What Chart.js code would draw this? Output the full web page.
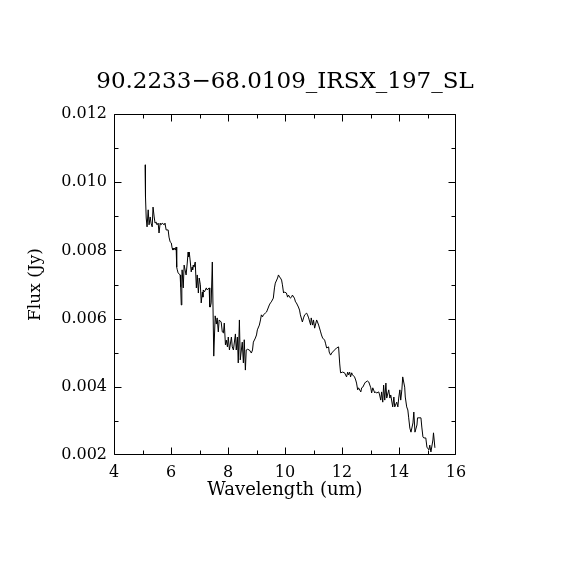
<!DOCTYPE html>
<html>
<head>
<meta charset="utf-8">
<script src="https://cdn.jsdelivr.net/npm/chart.js@4.4.1/dist/chart.umd.min.js"></script>
<style>
  html, body { margin: 0; padding: 0; background: #ffffff; }
  #wrap { width: 570px; height: 570px; }
</style>
</head>
<body>
<div id="wrap"><canvas id="c" width="570" height="570"></canvas></div>
<script>
const chartTitle = "90.2233\u221268.0109_IRSX_197_SL";
const xAxisTitle = "Wavelength (um)";
const yAxisTitle = "Flux (Jy)";

const xMajorTicks = [4, 6, 8, 10, 12, 14, 16];
const xMinorTicks = [5, 7, 9, 11, 13, 15];
const yMajorTicks = [0.002, 0.004, 0.006, 0.008, 0.010, 0.012];
const yMinorTicks = [0.003, 0.005, 0.007, 0.009, 0.011];

const wavelength = [
  5.09, 5.10, 5.11, 5.13, 5.16, 5.20, 5.23, 5.27, 5.30, 5.34,
  5.37, 5.41, 5.44, 5.48, 5.51, 5.55, 5.58, 5.62, 5.65, 5.69,
  5.76, 5.79, 5.83, 5.90, 5.93, 5.97, 6.01, 6.04, 6.07, 6.11,
  6.15, 6.18, 6.20, 6.22, 6.25, 6.32, 6.34, 6.36, 6.38, 6.39,
  6.43, 6.46, 6.53, 6.57, 6.60, 6.62, 6.64, 6.67, 6.71, 6.74,
  6.76, 6.78, 6.81, 6.85, 6.89, 6.92, 6.96, 6.99, 7.03, 7.06,
  7.10, 7.12, 7.13, 7.17, 7.24, 7.27, 7.34, 7.36, 7.38, 7.41,
  7.45, 7.50, 7.55, 7.59, 7.62, 7.66, 7.69, 7.76, 7.80, 7.84,
  7.87, 7.91, 7.94, 7.98, 8.01, 8.05, 8.12, 8.15, 8.19, 8.26,
  8.29, 8.33, 8.36, 8.40, 8.43, 8.50, 8.54, 8.57, 8.61, 8.64,
  8.68, 8.75, 8.82, 8.86, 8.89, 8.96, 9.00, 9.03, 9.10, 9.14,
  9.17, 9.21, 9.24, 9.31, 9.35, 9.38, 9.45, 9.49, 9.52, 9.59,
  9.63, 9.66, 9.74, 9.77, 9.81, 9.84, 9.88, 9.91, 9.95, 9.98,
  10.05, 10.09, 10.12, 10.19, 10.23, 10.26, 10.33, 10.37, 10.40, 10.47,
  10.51, 10.54, 10.61, 10.65, 10.69, 10.76, 10.79, 10.83, 10.90, 10.92,
  10.97, 11.00, 11.04, 11.11, 11.14, 11.18, 11.25, 11.28, 11.32, 11.39,
  11.42, 11.46, 11.53, 11.55, 11.60, 11.64, 11.67, 11.74, 11.81, 11.88,
  11.92, 11.95, 12.02, 12.09, 12.16, 12.20, 12.23, 12.27, 12.30, 12.34,
  12.37, 12.44, 12.48, 12.51, 12.55, 12.58, 12.66, 12.69, 12.73, 12.80,
  12.83, 12.90, 12.94, 13.01, 13.04, 13.08, 13.15, 13.18, 13.22, 13.29,
  13.32, 13.36, 13.39, 13.43, 13.46, 13.50, 13.54, 13.57, 13.64, 13.68,
  13.71, 13.78, 13.82, 13.85, 13.92, 13.96, 13.99, 14.03, 14.06, 14.10,
  14.13, 14.20, 14.22, 14.27, 14.31, 14.34, 14.38, 14.42, 14.49, 14.52,
  14.56, 14.63, 14.65, 14.77, 14.80, 14.84, 14.87, 14.94, 14.98, 15.05,
  15.08, 15.12, 15.19, 15.21, 15.26
];

const flux = [
  0.01051, 0.00983, 0.00957, 0.00895, 0.00869, 0.00919, 0.00875, 0.00898, 0.00880, 0.00869,
  0.00927, 0.00898, 0.00880, 0.00883, 0.00875, 0.00880, 0.00851, 0.00880, 0.00875, 0.00880,
  0.00875, 0.00880, 0.00860, 0.00860, 0.00839, 0.00825, 0.00822, 0.00807, 0.00801, 0.00807,
  0.00801, 0.00810, 0.00751, 0.00743, 0.00734, 0.00728, 0.00693, 0.00640, 0.00693, 0.00743,
  0.00690, 0.00757, 0.00728, 0.00763, 0.00795, 0.00781, 0.00795, 0.00772, 0.00737, 0.00751,
  0.00743, 0.00757, 0.00751, 0.00766, 0.00690, 0.00728, 0.00675, 0.00719, 0.00699, 0.00646,
  0.00678, 0.00663, 0.00684, 0.00678, 0.00690, 0.00684, 0.00690, 0.00634, 0.00634, 0.00646,
  0.00766, 0.00490, 0.00608, 0.00584, 0.00602, 0.00561, 0.00596, 0.00590, 0.00561, 0.00558,
  0.00587, 0.00523, 0.00537, 0.00517, 0.00546, 0.00508, 0.00546, 0.00517, 0.00508, 0.00555,
  0.00508, 0.00546, 0.00470, 0.00596, 0.00479, 0.00531, 0.00470, 0.00538, 0.00449, 0.00508,
  0.00510, 0.00508, 0.00499, 0.00508, 0.00531, 0.00543, 0.00552, 0.00567, 0.00581, 0.00596,
  0.00611, 0.00605, 0.00611, 0.00616, 0.00619, 0.00625, 0.00640, 0.00646, 0.00649, 0.00660,
  0.00690, 0.00704, 0.00719, 0.00728, 0.00722, 0.00719, 0.00713, 0.00699, 0.00675, 0.00678,
  0.00675, 0.00663, 0.00669, 0.00660, 0.00663, 0.00669, 0.00660, 0.00649, 0.00646, 0.00634,
  0.00625, 0.00611, 0.00590, 0.00602, 0.00611, 0.00616, 0.00611, 0.00602, 0.00581, 0.00602,
  0.00581, 0.00596, 0.00572, 0.00596, 0.00590, 0.00581, 0.00561, 0.00552, 0.00543, 0.00537,
  0.00528, 0.00514, 0.00517, 0.00502, 0.00493, 0.00499, 0.00502, 0.00508, 0.00514, 0.00517,
  0.00467, 0.00441, 0.00443, 0.00441, 0.00429, 0.00443, 0.00435, 0.00443, 0.00429, 0.00441,
  0.00435, 0.00429, 0.00420, 0.00411, 0.00391, 0.00397, 0.00385, 0.00397, 0.00399, 0.00411,
  0.00414, 0.00417, 0.00414, 0.00397, 0.00382, 0.00397, 0.00382, 0.00385, 0.00382, 0.00385,
  0.00376, 0.00361, 0.00385, 0.00355, 0.00405, 0.00361, 0.00411, 0.00367, 0.00391, 0.00367,
  0.00376, 0.00341, 0.00370, 0.00341, 0.00355, 0.00341, 0.00367, 0.00391, 0.00361, 0.00391,
  0.00429, 0.00399, 0.00370, 0.00341, 0.00332, 0.00309, 0.00279, 0.00267, 0.00294, 0.00326,
  0.00267, 0.00288, 0.00309, 0.00309, 0.00282, 0.00253, 0.00250, 0.00250, 0.00223, 0.00215,
  0.00229, 0.00209, 0.00244, 0.00265, 0.00221
];

const points = wavelength.map((w, i) => ({ x: w, y: flux[i] }));

const FONT = "'DejaVu Serif', 'Liberation Serif', serif";

const framePlugin = {
  id: 'frameTicks',
  afterDraw(chart) {
    const ctx = chart.ctx;
    const a = chart.chartArea;
    const xs = chart.scales.x, ys = chart.scales.y;
    ctx.save();
    ctx.strokeStyle = '#000';
    ctx.lineWidth = 1;
    const top = Math.round(a.top) + 0.5, bot = Math.round(a.bottom) - 0.5;
    const lef = Math.round(a.left) + 0.5, rig = Math.round(a.right) - 0.5;
    ctx.beginPath();
    ctx.rect(lef, top, rig - lef, bot - top);
    ctx.stroke();
    const clamp = (v, lo, hi) => Math.min(hi, Math.max(lo, v));
    ctx.beginPath();
    const xt = (vals, len) => vals.forEach(v => {
      const px = clamp(Math.round(xs.getPixelForValue(v)) + 0.5, lef, rig);
      ctx.moveTo(px, bot); ctx.lineTo(px, bot - len);
      ctx.moveTo(px, top); ctx.lineTo(px, top + len);
    });
    const yt = (vals, len) => vals.forEach(v => {
      const py = clamp(Math.round(ys.getPixelForValue(v)) + 0.5, top, bot);
      ctx.moveTo(lef, py); ctx.lineTo(lef + len, py);
      ctx.moveTo(rig, py); ctx.lineTo(rig - len, py);
    });
    xt(xMajorTicks, 7); xt(xMinorTicks, 4);
    yt(yMajorTicks, 7); yt(yMinorTicks, 4);
    ctx.stroke();
    ctx.restore();
  }
};

const bgPlugin = {
  id: 'bg',
  beforeDraw(chart) {
    const ctx = chart.ctx;
    ctx.save();
    ctx.fillStyle = '#fff';
    ctx.fillRect(0, 0, chart.width, chart.height);
    ctx.restore();
  }
};

new Chart(document.getElementById('c'), {
  type: 'line',
  data: {
    datasets: [{
      data: points,
      borderColor: '#000',
      borderWidth: 1,
      pointRadius: 0,
      tension: 0,
      fill: false
    }]
  },
  options: {
    responsive: false,
    animation: false,
    devicePixelRatio: 1,
    layout: { padding: 0 },
    plugins: {
      legend: { display: false },
      tooltip: { enabled: false },
      title: {
        display: true,
        text: chartTitle,
        color: '#000',
        font: { family: FONT, size: 23, weight: 'normal', lineHeight: 1.2 },
        padding: { top: 68, bottom: 18.4 }
      }
    },
    scales: {
      x: {
        type: 'linear',
        min: 4, max: 16,
        afterFit(s) { s.height = 115; },
        afterBuildTicks(s) { s.ticks = xMajorTicks.map(v => ({ value: v })); },
        grid: { display: false, drawTicks: false },
        border: { display: false },
        ticks: {
          color: '#000', padding: 8,
          font: { family: FONT, size: 16 },
          callback: v => String(v),
          maxRotation: 0
        },
        title: {
          display: true, text: xAxisTitle, color: '#000',
          font: { family: FONT, size: 18, lineHeight: 1.2 },
          padding: { top: 0, bottom: 69 }
        }
      },
      y: {
        type: 'linear',
        position: 'left',
        min: 0.002, max: 0.012,
        afterFit(s) { s.width = 114; },
        afterBuildTicks(s) { s.ticks = yMajorTicks.map(v => ({ value: v })); },
        grid: { display: false, drawTicks: false },
        border: { display: false },
        ticks: {
          color: '#000', padding: 7,
          font: { family: FONT, size: 16 },
          callback: v => Number(v).toFixed(3)
        },
        title: {
          display: true, text: yAxisTitle, color: '#000',
          font: { family: FONT, size: 17, lineHeight: 1.2 },
          padding: { top: 25, bottom: 0 }
        }
      },
      yRight: {
        type: 'linear',
        position: 'right',
        min: 0.002, max: 0.012,
        afterFit(s) { s.width = 114; },
        grid: { display: false, drawTicks: false },
        border: { display: false },
        ticks: { display: false },
        title: { display: false }
      }
    }
  },
  plugins: [bgPlugin, framePlugin]
});
</script>
</body>
</html>
